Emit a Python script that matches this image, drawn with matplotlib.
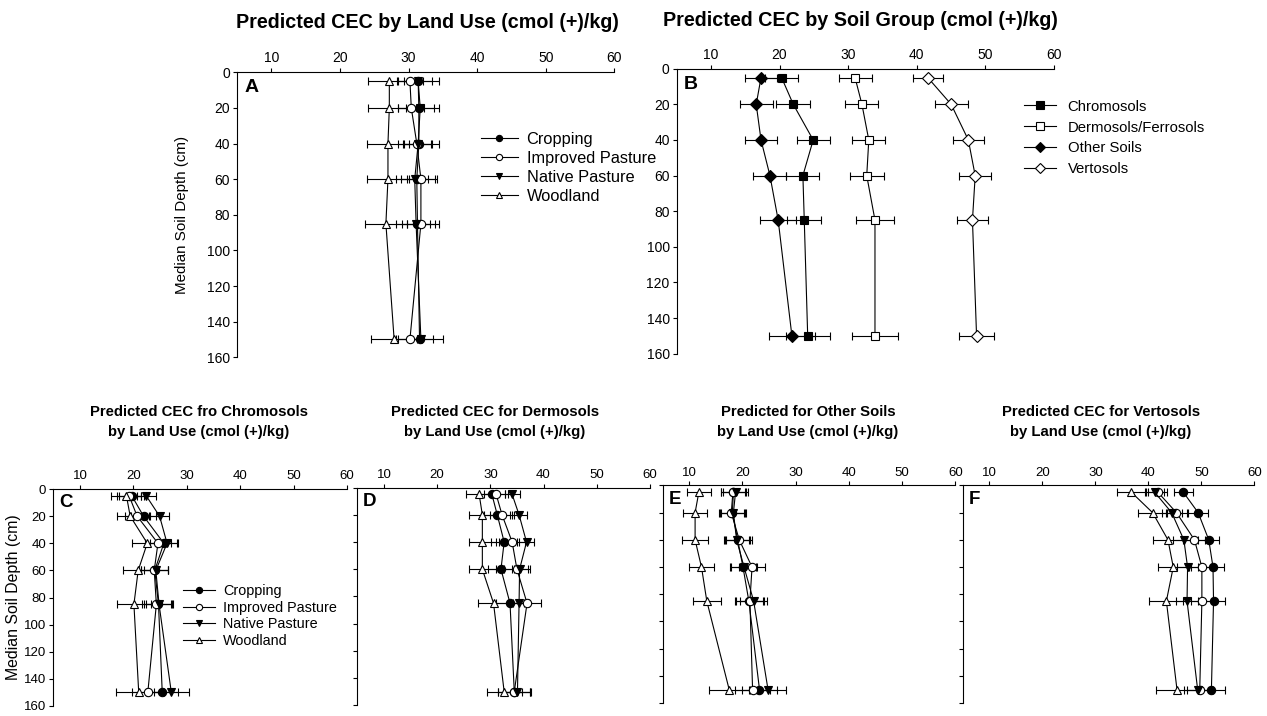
import matplotlib.pyplot as plt

plt.rcParams['font.family'] = ['Liberation Sans', 'DejaVu Sans']

depths = [5, 20, 40, 60, 85, 150]
land_uses = ['Cropping', 'Improved Pasture', 'Native Pasture', 'Woodland']
soil_groups = ['Chromosols', 'Dermosols/Ferrosols', 'Other Soils', 'Vertosols']
x_ticks = [10, 20, 30, 40, 50, 60]
y_ticks = [0, 20, 40, 60, 80, 100, 120, 140, 160]

# A - all soils by land use
a_crop = [31.4, 31.5, 31.5, 31.2, 31.3, 31.6]
a_crop_err = [3.0, 3.0, 3.0, 3.0, 3.2, 3.4]
a_impr = [30.2, 30.4, 31.2, 31.8, 31.8, 30.2]
a_impr_err = [1.9, 1.9, 2.0, 2.0, 2.0, 1.8]
a_nat = [31.4, 31.7, 31.4, 30.9, 31.1, 31.8]
a_nat_err = [2.0, 2.0, 2.0, 2.0, 2.0, 1.7]
a_wood = [27.2, 27.2, 27.0, 27.0, 26.7, 27.9]
a_wood_err = [3.1, 3.1, 3.1, 3.1, 3.1, 3.3]

# B - by soil group
b_chrom = [20.3, 22.0, 24.9, 23.4, 23.6, 24.1]
b_chrom_err = [2.4, 2.5, 2.4, 2.4, 2.5, 3.2]
b_derm = [31.0, 32.0, 33.0, 32.7, 33.9, 33.9]
b_derm_err = [2.4, 2.4, 2.4, 2.5, 2.7, 3.4]
b_other = [17.3, 16.6, 17.3, 18.6, 19.8, 21.8]
b_other_err = [2.4, 2.4, 2.4, 2.4, 2.6, 3.3]
b_vert = [41.6, 45.0, 47.5, 48.5, 48.1, 48.7]
b_vert_err = [2.2, 2.4, 2.3, 2.3, 2.3, 2.6]

# C - Chromosols
c_crop = [19.7, 21.9, 25.7, 24.0, 24.7, 25.4]
c_crop_err = [2.3, 2.3, 2.5, 2.5, 2.7, 3.0]
c_impr = [19.2, 20.7, 24.6, 23.9, 24.3, 22.7]
c_impr_err = [2.3, 2.3, 2.5, 2.5, 2.7, 3.0]
c_nat = [22.4, 24.9, 26.3, 24.2, 24.8, 27.1]
c_nat_err = [1.8, 1.8, 2.0, 2.2, 2.4, 3.3]
c_wood = [18.7, 19.4, 22.6, 20.9, 20.1, 21.0]
c_wood_err = [2.8, 2.5, 2.8, 2.8, 3.2, 4.2]

# D - Dermosols
d_crop = [30.3, 31.3, 32.6, 32.0, 33.7, 34.5]
d_crop_err = [2.4, 2.4, 2.5, 2.5, 2.7, 3.0]
d_impr = [31.1, 32.2, 34.1, 35.0, 36.9, 34.5]
d_impr_err = [2.3, 2.3, 2.4, 2.4, 2.6, 3.0]
d_nat = [34.1, 35.4, 36.8, 35.5, 35.4, 35.1]
d_nat_err = [1.4, 1.4, 1.5, 1.5, 1.8, 2.5]
d_wood = [27.9, 28.5, 28.5, 28.5, 30.6, 32.6]
d_wood_err = [2.5, 2.5, 2.6, 2.6, 2.9, 3.3]

# E - Other soils
e_crop = [18.3, 18.1, 19.1, 20.1, 21.2, 23.2]
e_crop_err = [2.3, 2.3, 2.4, 2.4, 2.6, 3.3]
e_impr = [18.2, 17.9, 19.4, 21.8, 21.4, 21.9]
e_impr_err = [2.3, 2.3, 2.4, 2.4, 2.6, 3.3]
e_nat = [18.7, 18.3, 18.9, 20.3, 22.1, 24.8]
e_nat_err = [2.3, 2.3, 2.4, 2.4, 2.6, 3.3]
e_wood = [11.8, 11.1, 11.1, 12.3, 13.3, 17.5]
e_wood_err = [2.3, 2.3, 2.4, 2.4, 2.6, 3.8]

# F - Vertosols
f_crop = [46.6, 49.4, 51.4, 52.2, 52.3, 51.9]
f_crop_err = [1.8, 1.9, 2.0, 2.0, 2.1, 2.5]
f_impr = [41.8, 45.3, 48.7, 50.1, 50.1, 49.7]
f_impr_err = [1.8, 1.9, 2.0, 2.0, 2.1, 2.5]
f_nat = [41.2, 44.4, 46.7, 47.4, 47.3, 49.3]
f_nat_err = [1.8, 1.9, 2.0, 2.0, 2.1, 2.5]
f_wood = [36.8, 40.8, 43.7, 44.7, 43.4, 45.4]
f_wood_err = [2.8, 2.8, 2.9, 2.9, 3.2, 3.9]

land_styles = [('o', 'black'), ('o', 'white'), ('v', 'black'), ('^', 'white')]
soil_styles = [('s', 'black'), ('s', 'white'), ('D', 'black'), ('D', 'white')]


def draw_panel(ax, series, errs, styles, labels, letter, show_ylab, fs, ms):
    handles = []
    for vals, err, (mk, fc), lab in zip(series, errs, styles, labels):
        cont = ax.errorbar(vals, depths, xerr=err, color='black', lw=0.8, elinewidth=0.8,
                           capsize=3, capthick=0.8, marker=mk, markerfacecolor=fc,
                           markeredgecolor='black', markeredgewidth=0.8, ms=ms, label=lab)
        handles.append(cont[0])
    ax.set_xlim(5, 60)
    ax.set_ylim(160, 0)
    ax.set_xticks(x_ticks)
    ax.set_yticks(y_ticks)
    ax.xaxis.tick_top()
    ax.spines['right'].set_visible(False)
    ax.spines['bottom'].set_visible(False)
    ax.tick_params(direction='out', length=3, width=0.8, labelsize=fs, pad=2)
    if not show_ylab:
        ax.set_yticklabels([])
    ax.text(0.02, 0.975, letter, transform=ax.transAxes, fontsize=fs + 4,
            fontweight='bold', va='top', ha='left')
    return handles


fig = plt.figure(figsize=(12.67, 7.16), dpi=100)

ax_a = fig.add_axes([0.187, 0.501, 0.298, 0.398])
ax_b = fig.add_axes([0.534, 0.506, 0.298, 0.398])
ax_c = fig.add_axes([0.042, 0.014, 0.232, 0.303])
ax_d = fig.add_axes([0.282, 0.015, 0.231, 0.304])
ax_e = fig.add_axes([0.523, 0.018, 0.231, 0.304])
ax_f = fig.add_axes([0.760, 0.018, 0.230, 0.304])

h_a = draw_panel(ax_a, [a_crop, a_impr, a_nat, a_wood], [a_crop_err, a_impr_err, a_nat_err, a_wood_err],
                 land_styles, land_uses, 'A', True, 10, 6)
h_b = draw_panel(ax_b, [b_chrom, b_derm, b_other, b_vert], [b_chrom_err, b_derm_err, b_other_err, b_vert_err],
                 soil_styles, soil_groups, 'B', True, 10, 6)
h_c = draw_panel(ax_c, [c_crop, c_impr, c_nat, c_wood], [c_crop_err, c_impr_err, c_nat_err, c_wood_err],
                 land_styles, land_uses, 'C', True, 9.5, 6)
draw_panel(ax_d, [d_crop, d_impr, d_nat, d_wood], [d_crop_err, d_impr_err, d_nat_err, d_wood_err],
           land_styles, land_uses, 'D', False, 9.5, 6)
draw_panel(ax_e, [e_crop, e_impr, e_nat, e_wood], [e_crop_err, e_impr_err, e_nat_err, e_wood_err],
           land_styles, land_uses, 'E', False, 9.5, 6)
draw_panel(ax_f, [f_crop, f_impr, f_nat, f_wood], [f_crop_err, f_impr_err, f_nat_err, f_wood_err],
           land_styles, land_uses, 'F', False, 9.5, 6)

ax_a.set_ylabel('Median Soil Depth (cm)', fontsize=10.9, labelpad=13)
ax_c.set_ylabel('Median Soil Depth (cm)', fontsize=11.4, labelpad=2)

leg_kw = dict(frameon=False, borderpad=0, borderaxespad=0, handlelength=2.2,
              bbox_transform=fig.transFigure, loc='upper left')
ax_a.legend(h_a, land_uses, bbox_to_anchor=(0.380, 0.816), fontsize=11.8,
            labelspacing=0.24, handletextpad=0.55, markerscale=0.75, **leg_kw)
ax_b.legend(h_b, soil_groups, bbox_to_anchor=(0.808, 0.861), fontsize=10.7,
            labelspacing=0.47, handletextpad=0.75, markerscale=0.85, **leg_kw)
ax_c.legend(h_c, land_uses, bbox_to_anchor=(0.1444, 0.1844), fontsize=10.4,
            labelspacing=0.18, handletextpad=0.6, markerscale=0.75, **leg_kw)

fig.text(427 / 1267, 1 - 22 / 716, 'Predicted CEC by Land Use (cmol (+)/kg)', ha='center',
         va='center', fontsize=14.2, fontweight='bold')
fig.text(860 / 1267, 1 - 21 / 716, 'Predicted CEC by Soil Group (cmol (+)/kg)', ha='center',
         va='center', fontsize=14.2, fontweight='bold')

bottom_titles = ['Predicted CEC fro Chromosols\nby Land Use (cmol (+)/kg)',
                 'Predicted CEC for Dermosols\nby Land Use (cmol (+)/kg)',
                 'Predicted for Other Soils\nby Land Use (cmol (+)/kg)',
                 'Predicted CEC for Vertosols\nby Land Use (cmol (+)/kg)']
title_x = [199, 495, 808, 1101]
for tx, tt in zip(title_x, bottom_titles):
    fig.text(tx / 1267, 1 - 422 / 716, tt, ha='center', va='center', fontsize=10.7,
             fontweight='bold', linespacing=1.55)

plt.savefig('out.png', dpi=100)
